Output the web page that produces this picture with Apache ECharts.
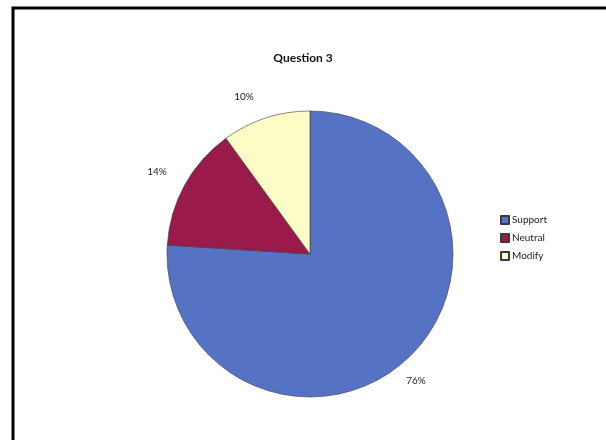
<!DOCTYPE html>
<html>
<head>
<meta charset="utf-8">
<script src="https://cdn.jsdelivr.net/npm/echarts@6/dist/echarts.min.js"></script>
<style>
  html, body { margin: 0; padding: 0; background: #ffffff; }
  #chart { width: 606px; height: 440px; }
</style>
</head>
<body>
<div id="chart"></div>
<script>
// Survey responses for question 3 (percent of respondents)
const categories = ['Support', 'Neutral', 'Modify'];
const values = [76, 14, 10];
const sliceColors = ['#5672c4', '#9a1a4b', '#fdfbc6'];

// Where each percentage label sits beside its slice
const labelAnchors = [[416, 381], [157, 172], [244, 97]];

const FONT = 'Lato, "Open Sans", sans-serif';

const chart = echarts.init(document.getElementById('chart'), null, { renderer: 'canvas' });

chart.setOption({
  backgroundColor: '#ffffff',
  animation: false,
  title: {
    text: 'Question 3',
    left: 'center',
    top: 47,
    textStyle: { fontFamily: FONT, fontSize: 12, fontWeight: 'bold', color: '#111111' }
  },
  legend: {
    orient: 'vertical',
    left: 495,
    top: 210,
    itemWidth: 8,
    itemHeight: 8,
    itemGap: 8,
    icon: 'rect',
    data: categories,
    textStyle: { fontFamily: FONT, fontSize: 10, color: '#222222', lineHeight: 10, padding: [0, 0, 0, -2] }
  },
  graphic: [{
    type: 'rect',
    shape: { x: 13, y: 8, width: 700, height: 700 },
    style: { fill: 'none', stroke: '#000000', lineWidth: 3 },
    silent: true
  }],
  series: [{
    type: 'pie',
    center: [310, 254],
    radius: 143,
    startAngle: 90,
    clockwise: true,
    avoidLabelOverlap: false,
    data: categories.map((name, i) => ({
      name,
      value: values[i],
      itemStyle: { color: sliceColors[i] }
    })),
    itemStyle: { borderColor: '#3a3a3a', borderWidth: 0.6 },
    label: {
      show: true,
      position: 'outside',
      formatter: '{c}%',
      fontFamily: FONT,
      fontSize: 10,
      color: '#222222'
    },
    labelLine: { show: false },
    labelLayout: (p) => ({
      x: labelAnchors[p.dataIndex][0],
      y: labelAnchors[p.dataIndex][1],
      align: 'center',
      verticalAlign: 'middle'
    }),
    emphasis: { disabled: true }
  }]
});
</script>
</body>
</html>
